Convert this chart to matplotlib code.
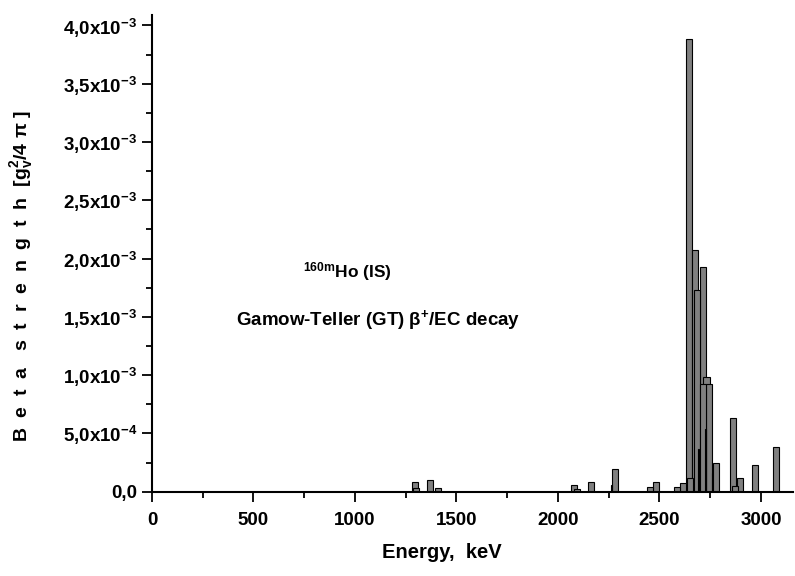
import matplotlib
matplotlib.use('Agg')
import matplotlib.pyplot as plt
from matplotlib.ticker import MultipleLocator

plt.rcParams['font.family'] = ['Liberation Sans', 'DejaVu Sans']
plt.rcParams['font.weight'] = 'bold'
plt.rcParams['mathtext.fontset'] = 'custom'
plt.rcParams['mathtext.rm'] = 'Liberation Sans:bold'
plt.rcParams['mathtext.it'] = 'Liberation Sans:bold'
plt.rcParams['mathtext.bf'] = 'Liberation Sans:bold'
plt.rcParams['mathtext.default'] = 'rm'

# transitions (keV) and GT strength
energy = [1297, 1300, 1371, 1410, 2080, 2092, 2163, 2282, 2455, 2481, 2585, 2614,
          2645, 2650, 2675, 2685, 2714, 2714, 2732, 2745, 2778,
          2862, 2873, 2897, 2971, 3075]
strength = [8.0e-5, 2.9e-5, 9.8e-5, 2.9e-5, 5.5e-5, 2.0e-5, 8.0e-5, 1.92e-4, 3.8e-5, 8.1e-5, 4.3e-5, 7.2e-5,
            3.88e-3, 1.15e-4, 2.07e-3, 1.73e-3, 1.93e-3, 0.92e-3, 0.986e-3, 0.923e-3, 2.5e-4,
            6.3e-4, 4.9e-5, 1.2e-4, 2.29e-4, 3.8e-4]

# very narrow lines inside the main peak
narrow_energy = [2265, 2693, 2727, 2759]
narrow_strength = [5.7e-5, 3.7e-4, 5.35e-4, 1.6e-4]

xticks = [0, 500, 1000, 1500, 2000, 2500, 3000]
yticks = [0, 0.5e-3, 1.0e-3, 1.5e-3, 2.0e-3, 2.5e-3, 3.0e-3, 3.5e-3, 4.0e-3]
ytick_labels = ['0,0', '5,0x10$^{-4}$', '1,0x10$^{-3}$', '1,5x10$^{-3}$', '2,0x10$^{-3}$',
                '2,5x10$^{-3}$', '3,0x10$^{-3}$', '3,5x10$^{-3}$', '4,0x10$^{-3}$']

fig = plt.figure(figsize=(7.95, 5.76), dpi=100)
ax = fig.add_axes([152/795, 1-491.7/576, (793-152)/795, (491.7-15)/576])

# tall bars behind, short ones in front
order = sorted(range(len(energy)), key=lambda i: -strength[i])
for i in order:
    ax.bar(energy[i], strength[i], width=30, color='#808080', edgecolor='black', linewidth=0.8)
ax.bar(narrow_energy, narrow_strength, width=4, color='#303030', edgecolor='black', linewidth=0.8)

ax.set_xlim(0, 3158)
ax.set_ylim(0, 4.09e-3)
ax.set_xticks(xticks)
ax.set_xticklabels([str(t) for t in xticks])
ax.set_yticks(yticks)
ax.set_yticklabels(ytick_labels)
ax.xaxis.set_minor_locator(MultipleLocator(250))
ax.yaxis.set_minor_locator(MultipleLocator(0.25e-3))
ax.tick_params(which='major', length=7.5, width=1.3, labelsize=13.5, pad=3)
ax.tick_params(which='minor', length=4, width=1.3)
ax.tick_params(axis='x', which='major', pad=7)

ax.spines['top'].set_visible(False)
ax.spines['right'].set_visible(False)
ax.spines['left'].set_linewidth(1.5)
ax.spines['bottom'].set_linewidth(1.5)

fig.text(442/795, 1-553/576, 'Energy,  keV', ha='center', va='center', fontsize=14.5)
fig.text(22/795, 1-276/576, 'B  e  t  a   s  t  r  e  n  g  t  h  [g$_v^2$/4 \u03c0 ]',
         rotation=90, ha='center', va='center', fontsize=14)
fig.text(303/795, 1-272/576, '$^{160m}$Ho (IS)', ha='left', va='center', fontsize=12.5)
fig.text(236/795, 1-320/576, 'Gamow-Teller (GT) \u03b2$^{+}$/EC decay', ha='left', va='center', fontsize=13.5)

plt.savefig('out.png', dpi=100)
